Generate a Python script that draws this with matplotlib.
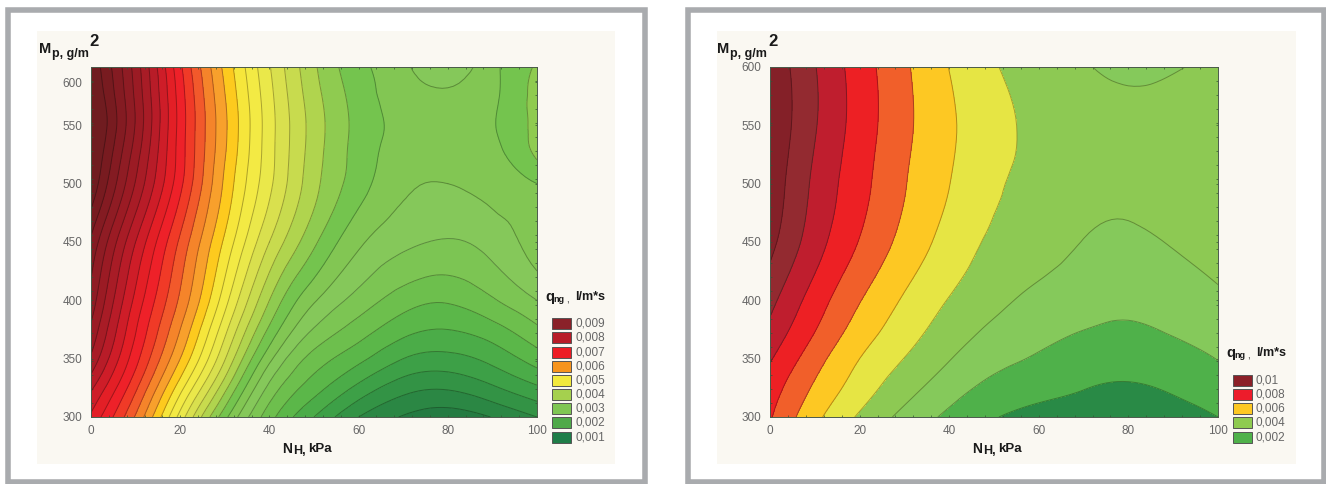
import numpy as np
import matplotlib
matplotlib.use('Agg')
import matplotlib.pyplot as plt
import matplotlib.tri as mtri
from matplotlib.colors import to_rgb
from matplotlib.patches import Rectangle
from matplotlib.ticker import MultipleLocator

plt.rcParams['font.family'] = ['Liberation Sans', 'DejaVu Sans']

W, H = 1326, 484

# values
x_grid = [0, 10, 20, 30, 40, 50, 60, 70, 80, 90, 100]

y_left = [300, 325, 350, 375, 400, 450, 500, 525, 550, 575, 600]
z_left = [
    [.0072, .00622, .0049, .00358, .0026, .0020, .0015, .00123, .00112, .00126, .0015],
    [.00755, .00655, .00535, .00408, .00293, .00236, .00193, .0016, .00153, .00171, .00196],
    [.00795, .00684, .00575, .00452, .00332, .00265, .00232, .0020, .00192, .00208, .00237],
    [.0082, .00702, .0060, .00483, .0037, .00298, .00263, .00234, .00225, .0024, .0027],
    [.0084, .00718, .0062, .0051, .0040, .00328, .0029, .00262, .00253, .00272, .0030],
    [.0087, .0075, .00645, .00545, .0045, .0038, .0033, .00306, .00298, .0031, .00338],
    [.0092, .00798, .00682, .0057, .00481, .00408, .00361, .0033, .00325, .00335, .0035],
    [.0093, .00812, .00688, .00577, .00485, .00412, .00365, .00337, .00332, .00342, .0038],
    [.0094, .00823, .0069, .0058, .00486, .00414, .00367, .00342, .00338, .00348, .00383],
    [.0093, .0082, .00688, .00576, .00483, .0041, .00364, .00336, .0033, .00345, .00385],
    [.0092, .00814, .0068, .00568, .00477, .00404, .00358, .0033, .0031, .00343, .00378],
]

y_right = [300, 325, 350, 375, 400, 450, 500, 550, 600]
z_right = [
    [.0076, .00578, .00436, .00322, .00227, .00155, .00125, .00103, .00097, .00113, .0015],
    [.0080, .00635, .00501, .0039, .00295, .0022, .0018, .00153, .0014, .00162, .00201],
    [.0086, .00692, .0055, .00448, .00355, .00282, .00238, .00196, .0019, .00212, .00253],
    [.00925, .00755, .00607, .00497, .00405, .00332, .00282, .00251, .00238, .0026, .0029],
    [.0098, .00804, .00655, .00538, .00445, .00375, .00322, .00286, .00272, .00291, .0033],
    [.0108, .00895, .00745, .00618, .00512, .00433, .00395, .00347, .0033, .00358, .0040],
    [.0112, .0093, .00785, .00656, .00552, .00465, .0042, .0039, .0038, .0041, .0044],
    [.0114, .00958, .00806, .00674, .00566, .00482, .0043, .0041, .0039, .0041, .0044],
    [.0113, .00955, .00801, .00667, .00548, .00458, .0040, .0036, .0032, .0034, .0038],
]

levels_left = [0] + [k * .00025 for k in range(5, 37)] + [.02]
colors_left = ['#247b42', '#2b8744', '#339345', '#3da047', '#4bac48', '#5bb749', '#6dbf4d',
               '#7cc553', '#85c85a', '#82c653', '#74c44e', '#8fcb50', '#b0d44e', '#c8db4e',
               '#d9e04e', '#eae84a', '#f3ea44', '#f6e63b', '#fdca1e', '#f8a02c', '#f5842a',
               '#f2592b', '#f03a27', '#ee2129', '#e31f26', '#ce1d28', '#b81c28', '#a81c26',
               '#9b1b24', '#8f1c24', '#841b22', '#781b20', '#701c20']

levels_right = [0, .0015, .0025, .0035, .0045, .0055, .0065, .0075, .0085, .0095, .0105, .02]
colors_right = ['#298a46', '#4fb14a', '#85c95b', '#8dc953', '#e6e544', '#fdc823',
                '#f15f2a', '#ed2024', '#bf1e2e', '#932a30', '#842028']

legend_left = ['0,009', '0,008', '0,007', '0,006', '0,005', '0,004', '0,003', '0,002', '0,001']
swatch_left = ['#8a2129', '#b81c28', '#ed1c24', '#f7941d', '#f2e93c', '#a5d04e', '#7fc653', '#4fa949', '#1e7d48']
legend_right = ['0,01', '0,008', '0,006', '0,004', '0,002']
swatch_right = ['#8b2028', '#ed1c2b', '#fdc823', '#8fcb50', '#4fb14a']

x_ticks = [0, 20, 40, 60, 80, 100]
y_labels = ['300', '350', '400', '450', '500', '550', '600']
y_ticks_left = [300, 350, 400, 450, 500, 550, 587]  # 600 sits low in the original
y_ticks_right = [300, 350, 400, 450, 500, 550, 600]

GREY = '#666666'
INK = '#1a1a1a'

fig = plt.figure(figsize=(W / 100, H / 100), dpi=100, facecolor='white')

# overlay in pixel coordinates for frames, titles and legends
bg = fig.add_axes([0, 0, 1, 1])
bg.set_xlim(0, W)
bg.set_ylim(H, 0)
bg.axis('off')


def pixel_axes(left, right, top, bottom):
    return fig.add_axes([left / W, 1 - bottom / H, (right - left) / W, (bottom - top) / H])


def draw_map(box, y_vals, z_vals, levels, colors, y_ticks):
    ax = pixel_axes(*box)
    # the table is coarse, so let tri refine it to get round contours
    xx, yy = np.meshgrid(x_grid, y_vals)
    tri = mtri.Triangulation(xx.ravel() / 100, (yy.ravel() - 300) / 300)
    zz = np.array(z_vals).ravel()
    refiner = mtri.UniformTriRefiner(tri)
    tri2, z2 = refiner.refine_field(zz, mtri.CubicTriInterpolator(tri, zz), subdiv=3)
    tri2 = mtri.Triangulation(tri2.x * 100, tri2.y * 300 + 300, tri2.triangles)
    ax.tricontourf(tri2, z2, levels=levels, colors=colors)
    line_cols = [tuple(c * 0.62 for c in to_rgb(col)) for col in colors[1:]]
    ax.tricontour(tri2, z2, levels=levels[1:-1], colors=line_cols, linewidths=0.7, alpha=0.8)
    ax.set_xlim(0, 100)
    ax.set_ylim(300, 600)
    ax.set_xticks(x_ticks)
    ax.set_yticks(y_ticks)
    ax.set_yticklabels(y_labels)
    ax.xaxis.set_minor_locator(MultipleLocator(4))
    ax.yaxis.set_minor_locator(MultipleLocator(12))
    ax.tick_params(which='both', direction='in', length=1.5, width=0.5, color='#335533',
                   top=True, right=True, labelsize=8.5, labelcolor=GREY, pad=6)
    for s in ax.spines.values():
        s.set_linewidth(0.7)
        s.set_color('#4a5a4a')
    return ax


def draw_panel(x0, x1, cream_x0, cream_x1, off, x_off, qx, names, swatches, sw_x, txt_x, q_y):
    bg.add_patch(Rectangle((x0, 9.5), x1 - x0, 472.5, fc='white', ec='#a9abae', lw=4))
    bg.add_patch(Rectangle((cream_x0, 31), cream_x1 - cream_x0, 433, fc='#faf8f2', ec='none'))
    # y axis title
    bg.text(39 + off, 49, 'M', fontsize=10.5, fontweight='bold', color=INK, va='center')
    bg.text(52 + off, 54, 'p, g/m', fontsize=9, fontweight='bold', color=INK, va='center')
    bg.text(89.5 + off, 41, '2', fontsize=12, fontweight='bold', color=INK, va='center')
    # x axis title
    bg.text(282 + x_off, 449, 'N', fontsize=10, fontweight='bold', color=INK, va='center')
    bg.text(293 + x_off, 451, 'H,', fontsize=9, fontweight='bold', color=INK, va='center')
    bg.text(308 + x_off, 449, 'kPa', fontsize=9.5, fontweight='bold', color=INK, va='center')
    # legend title
    bg.text(qx, q_y, 'q', fontsize=10.5, fontweight='bold', color=INK, va='center')
    bg.text(qx + 8, q_y + 3, 'ng', fontsize=6.5, fontweight='bold', color=INK, va='center')
    bg.text(qx + 21, q_y + 2, ',', fontsize=7, color=INK, va='center')
    bg.text(qx + 30, q_y, 'l/m*s', fontsize=9, fontweight='bold', color=INK, va='center')
    # legend rows, bottom row stays at the same height in both panels
    n = len(names)
    for i, (name, col) in enumerate(zip(names, swatches)):
        yc = 437 - (n - 1 - i) * 14.15
        bg.add_patch(Rectangle((sw_x, yc - 5.5), 19, 11, fc=col, ec='#555555', lw=0.7))
        bg.text(txt_x, yc, name, fontsize=8.5, color=GREY, va='center')


draw_panel(7.5, 645, 37, 615, 0, 0, 545, legend_left, swatch_left, 552, 575, 297)
draw_panel(687.5, 1324, 717, 1296, 678.5, 690, 1226, legend_right, swatch_right, 1232.5, 1256, 353)

draw_map((91, 537, 67, 417), y_left, z_left, levels_left, colors_left, y_ticks_left)
draw_map((770, 1218, 67, 417), y_right, z_right, levels_right, colors_right, y_ticks_right)

fig.savefig('out.png', dpi=100)
